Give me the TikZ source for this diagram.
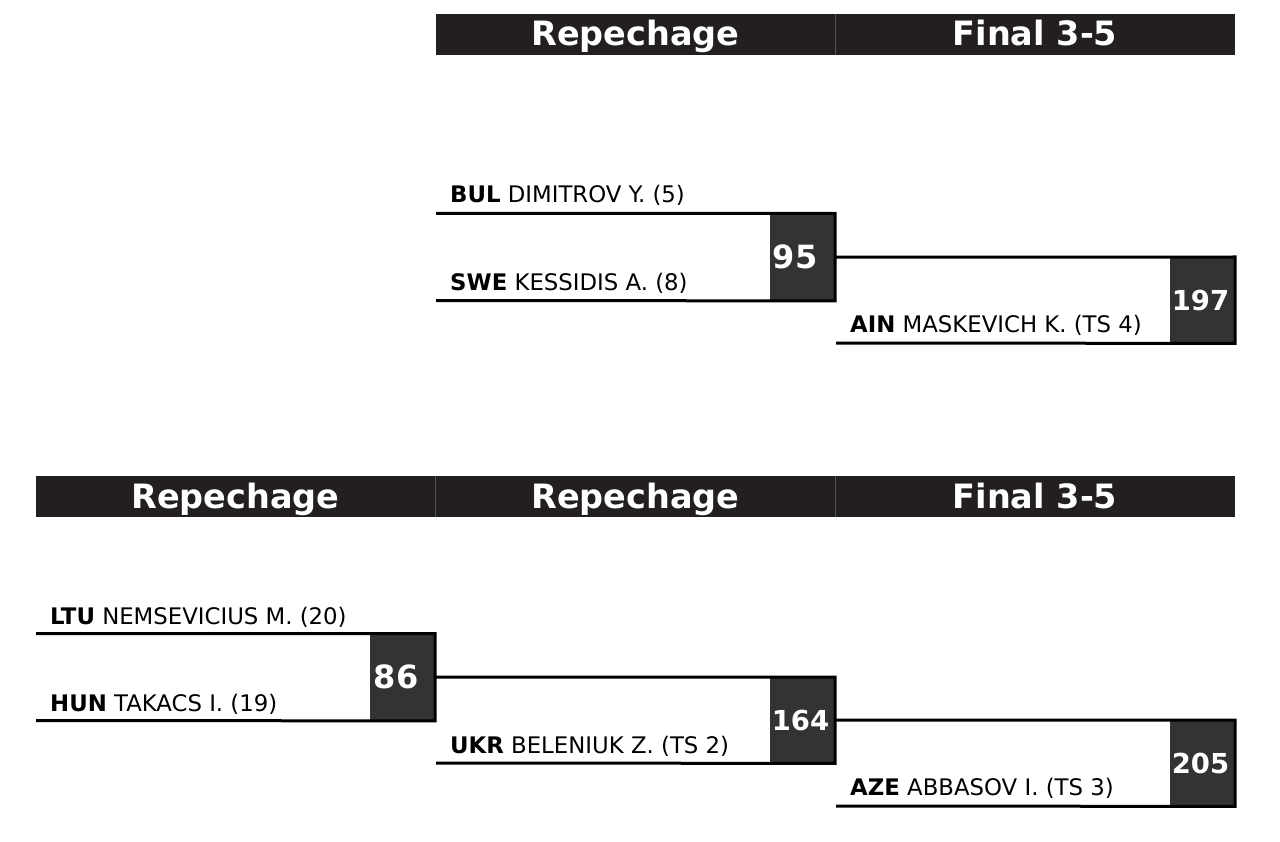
\documentclass[tikz,border=0pt]{standalone}
\usepackage{fontspec}
\setmainfont{DejaVu Sans}
\definecolor{hdr}{HTML}{231F20}
\definecolor{boxc}{HTML}{333333}
\definecolor{divc}{HTML}{555555}
\tikzset{
  hdrbar/.style={fill=hdr, draw=none},
  hdrdiv/.style={draw=divc, line width=0.8pt},
  hdrtxt/.style={text=white, anchor=base, inner sep=0pt, font=\fontsize{33.5}{38}\selectfont\bfseries},
  nm/.style={anchor=base west, inner sep=0pt, font=\fontsize{22.8}{27}\selectfont},
  scorebox/.style={fill=boxc, draw=none, inner sep=0pt, minimum width=65pt, anchor=north east},
  numtwo/.style={anchor=west, inner sep=0pt, text=white, font=\fontsize{32}{37}\selectfont\bfseries},
  numthree/.style={anchor=west, inner sep=0pt, text=white, font=\fontsize{27.5}{32}\selectfont\bfseries},
  bline/.style={draw=black, line width=3pt}
}
\begin{document}
\begin{tikzpicture}[x=1pt,y=-1pt]
\useasboundingbox (0,0) rectangle (1280,842);
\fill[white] (0,0) rectangle (1280,842);

% ---------- top headers ----------
\fill[hdrbar] (436,14) rectangle (1235,55);
\draw[hdrdiv] (835,14) -- (835,55);
\node[hdrtxt] (ht1) at (635.5,46) {Repechage};
\node[hdrtxt] (ht2) at (1035,46) {Final 3-5};

% ---------- bottom headers ----------
\fill[hdrbar] (36,476) rectangle (1235,517);
\draw[hdrdiv] (435,476) -- (435,517);
\draw[hdrdiv] (835,476) -- (835,517);
\node[hdrtxt] (hb1) at (235.5,508) {Repechage};
\node[hdrtxt] (hb2) at (635.5,508) {Repechage};
\node[hdrtxt] (hb3) at (1035,508) {Final 3-5};

% ---------- match 95 ----------
\node[scorebox, minimum height=87pt] (b95) at (835,213.5) {};
\node[numtwo] (n95) at ([xshift=3pt]b95.west) {95};
\coordinate (s95a) at (436,213.5);
\coordinate (s95b) at (436,300.5);
\draw[bline] (s95a) -- (b95.north east) -- (b95.south east) -- (s95b);
\node[nm] (p1) at (450,203) {\textbf{BUL} DIMITROV Y. (5)};
\node[nm] (p2) at (450,291) {\textbf{SWE} KESSIDIS A. (8)};

% ---------- match 197 ----------
\node[scorebox, minimum height=86pt] (b197) at (1235,257) {};
\node[numthree] (n197) at ([xshift=2pt]b197.west) {197};
\coordinate (s197b) at (836,343);
\draw[bline] (b95.east) -- (b197.north east) -- (b197.south east) -- (s197b);
\node[nm] (p3) at (850,333) {\textbf{AIN} MASKEVICH K. (TS 4)};

% ---------- match 86 ----------
\node[scorebox, minimum height=87pt] (b86) at (435,633.5) {};
\node[numtwo] (n86) at ([xshift=4pt]b86.west) {86};
\coordinate (s86a) at (36,633.5);
\coordinate (s86b) at (36,720.5);
\draw[bline] (s86a) -- (b86.north east) -- (b86.south east) -- (s86b);
\node[nm] (p4) at (50,624) {\textbf{LTU} NEMSEVICIUS M. (20)};
\node[nm] (p5) at (50,711) {\textbf{HUN} TAKACS I. (19)};

% ---------- match 164 ----------
\node[scorebox, minimum height=86pt] (b164) at (835,677) {};
\node[numthree] (n164) at ([xshift=2pt]b164.west) {164};
\coordinate (s164b) at (436,763);
\draw[bline] (b86.east) -- (b164.north east) -- (b164.south east) -- (s164b);
\node[nm] (p6) at (450,753) {\textbf{UKR} BELENIUK Z. (TS 2)};

% ---------- match 205 ----------
\node[scorebox, minimum height=86pt] (b205) at (1235,720) {};
\node[numthree] (n205) at ([xshift=2pt]b205.west) {205};
\coordinate (s205b) at (836,806);
\draw[bline] (b164.east) -- (b205.north east) -- (b205.south east) -- (s205b);
\node[nm] (p7) at (850,795) {\textbf{AZE} ABBASOV I. (TS 3)};
\end{tikzpicture}
\end{document}
